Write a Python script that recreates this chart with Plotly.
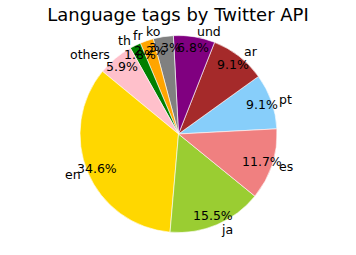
import math
import plotly.graph_objects as go

labels = ["pt", "ar", "und", "ko", "fr", "th", "others", "en", "ja", "es"]
values = [9.1, 9.1, 6.8, 3.3, 2.2, 1.8, 5.9, 34.6, 15.5, 11.7]
colors = ["#87CEFA", "#A52A2A", "#800080", "#808080", "#FFA500",
          "#008000", "#FFC0CB", "#FFD700", "#9ACD32", "#F08080"]
title = "Language tags by Twitter API"

W, H = 356, 255
cx, cy, R = 178.5, 134.0, 98.5
start_deg = 3.0          # first slice starts 3 deg above 3 o'clock, CCW
label_r = 104.0
pct_r = 88.0
font = "DejaVu Sans"

total = sum(values)
# plotly (counterclockwise): first slice spans clockwise-from-top [rotation, rotation + its angle]
first_angle = 360.0 * values[0] / total
rotation = 90.0 - start_deg - first_angle

fig = go.Figure()
fig.add_trace(go.Pie(
    labels=labels, values=values, sort=False,
    direction="counterclockwise", rotation=rotation,
    marker=dict(colors=colors, line=dict(color="white", width=0.6)),
    textinfo="none", hoverinfo="label+percent", showlegend=False,
    domain=dict(x=[(cx - R) / W, (cx + R) / W],
                y=[1 - (cy + R) / H, 1 - (cy - R) / H]),
))

cum = 0.0
anns = []
for lab, v in zip(labels, values):
    mid = start_deg + 360.0 * (cum + v / 2) / total
    cum += v
    a = math.radians(mid)
    ca, sa = math.cos(a), math.sin(a)
    lx, ly = cx + label_r * ca, cy - label_r * sa
    anns.append(dict(x=lx / W, y=1 - ly / H, xref="paper", yref="paper",
                     text=lab, showarrow=False,
                     xanchor="left" if ca > 0 else "right", yanchor="middle",
                     font=dict(family=font, size=12.5, color="black")))
    px, py = cx + pct_r * ca, cy - pct_r * sa
    anns.append(dict(x=px / W, y=1 - py / H, xref="paper", yref="paper",
                     text="%.1f%%" % (100.0 * v / total), showarrow=False,
                     xanchor="center", yanchor="middle",
                     font=dict(family=font, size=12.5, color="black")))

fig.update_layout(
    width=W, height=H, margin=dict(l=0, r=0, t=0, b=0),
    paper_bgcolor="white", plot_bgcolor="white",
    title=dict(text=title, x=0.5, xanchor="center", y=1 - 15 / H,
               yref="container", yanchor="middle",
               font=dict(family=font, size=18, color="black")),
    annotations=anns,
)
fig.write_html("out.html")
